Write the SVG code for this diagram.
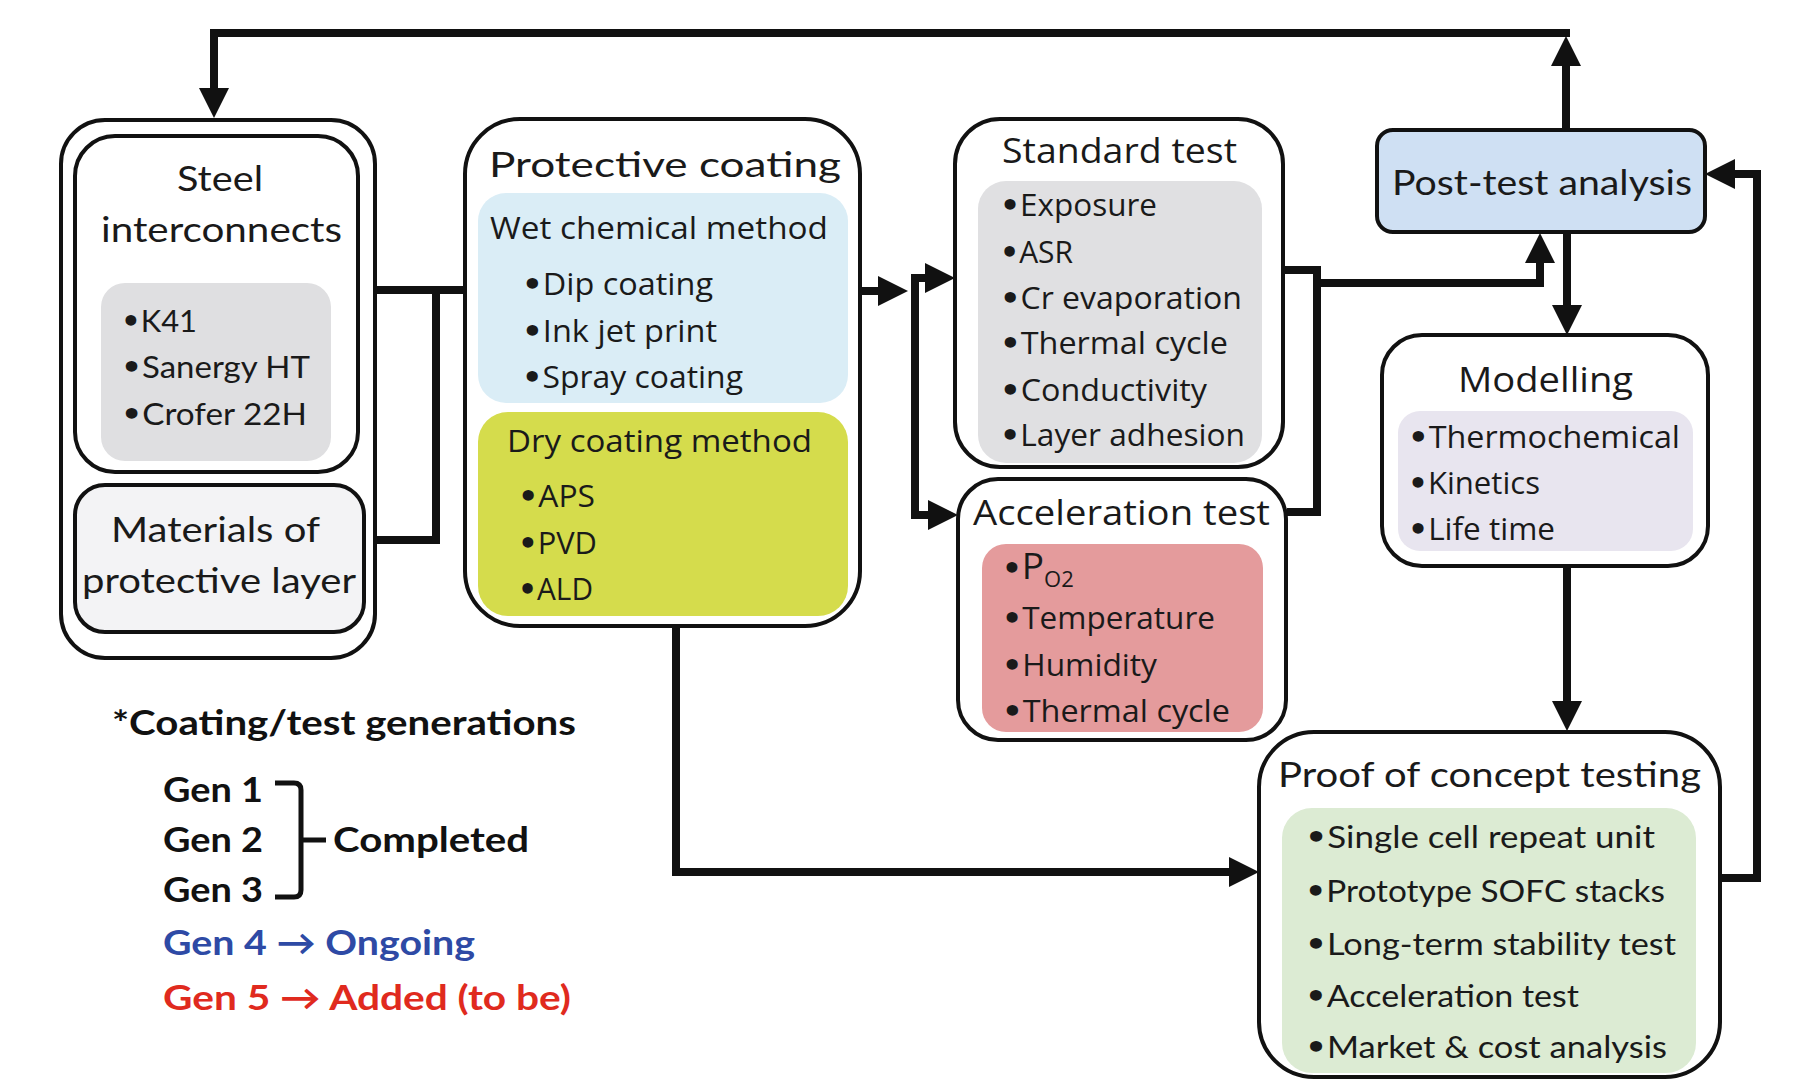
<svg xmlns="http://www.w3.org/2000/svg" width="1800" height="1079" viewBox="0 0 1800 1079">
<defs>
<style>
.box{fill:#fff;stroke:#111;stroke-width:4}
.inner{stroke:none}
.t{font-family:Lato,"Liberation Sans",sans-serif;font-size:35px;fill:#1a1a1a}
.i{font-family:Lato,"Liberation Sans",sans-serif;font-size:31px;fill:#1a1a1a}
.w{font-family:"Open Sans","DejaVu Sans",sans-serif;font-size:31px;fill:#1a1a1a}
.wt{font-family:"Open Sans","DejaVu Sans",sans-serif;font-size:34px;fill:#1a1a1a}
.b{font-family:"DejaVu Sans",sans-serif;font-weight:bold;font-size:31px}
.lg{font-family:Lato,"Liberation Sans",sans-serif;font-size:35px;font-weight:bold;fill:#111}
.con{fill:none;stroke:#111;stroke-width:8;stroke-linejoin:miter}
</style>
<marker id="ah" markerUnits="userSpaceOnUse" markerWidth="30" markerHeight="30" refX="20" refY="15" orient="auto-start-reverse">
<path d="M0,0 L30,15 L0,30 Z" fill="#111"/>
</marker>
</defs>
<rect width="1800" height="1079" fill="#fff"/>

<g id="connectors">
<path class="con" d="M1566,130 V46" marker-end="url(#ah)"/>
<path class="con" d="M1570,33 H214 V108" marker-end="url(#ah)"/>
<path class="con" d="M375,290 H465"/>
<path class="con" d="M375,540 H436 V290"/>
<path class="con" d="M860,291 H898" marker-end="url(#ah)"/>
<path class="con" d="M945,278 H915 V515 H948" marker-start="url(#ah)" marker-end="url(#ah)"/>
<path class="con" d="M1283,270 H1317 V512 H1287"/>
<path class="con" d="M1317,283 H1540 V243" marker-end="url(#ah)"/>
<path class="con" d="M1567,232 V325" marker-end="url(#ah)"/>
<path class="con" d="M1567,566 V721" marker-end="url(#ah)"/>
<path class="con" d="M1720,878 H1757 V174 H1715" marker-end="url(#ah)"/>
<path class="con" d="M676,626 V872 H1249" marker-end="url(#ah)"/>
</g>

<g id="steel-group">
<rect class="box" x="61" y="120" width="314" height="538" rx="44"/>
</g>
<g id="steel-interconnects">
<rect class="box" x="75" y="136" width="283" height="336" rx="40"/>
<rect class="inner" x="101" y="283" width="230" height="178" rx="24" fill="#dfdfe1"/>
<text class="t" x="177" y="191" textLength="86" lengthAdjust="spacingAndGlyphs">Steel</text>
<text class="t" x="101" y="242" textLength="241" lengthAdjust="spacingAndGlyphs">interconnects</text>
<text class="i" x="121" y="332" textLength="76" lengthAdjust="spacingAndGlyphs"><tspan class="b">•</tspan>K41</text>
<text class="i" x="121" y="378" textLength="189" lengthAdjust="spacingAndGlyphs"><tspan class="b">•</tspan>Sanergy HT</text>
<text class="i" x="121" y="425" textLength="186" lengthAdjust="spacingAndGlyphs"><tspan class="b">•</tspan>Crofer 22H</text>
</g>
<g id="materials">
<rect class="box" x="75" y="485" width="289" height="147" rx="30" style="fill:#f3f3f5"/>
<text class="t" x="111" y="542" textLength="209" lengthAdjust="spacingAndGlyphs">Materials of</text>
<text class="t" x="82" y="593" textLength="274" lengthAdjust="spacingAndGlyphs">protective layer</text>
</g>

<g id="protective-coating">
<rect class="box" x="465" y="119" width="395" height="507" rx="55"/>
<rect class="inner" x="478" y="193" width="370" height="210" rx="28" fill="#daedf6"/>
<rect class="inner" x="478" y="412" width="370" height="204" rx="30" fill="#d5dc4c"/>
<text class="t" x="489" y="177" textLength="352" lengthAdjust="spacingAndGlyphs">Protective coating</text>
<text class="w" x="490" y="239" textLength="338" lengthAdjust="spacingAndGlyphs">Wet chemical method</text>
<text class="w" x="522" y="295" textLength="191" lengthAdjust="spacingAndGlyphs"><tspan class="b">•</tspan>Dip coating</text>
<text class="w" x="522" y="342" textLength="195" lengthAdjust="spacingAndGlyphs"><tspan class="b">•</tspan>Ink jet print</text>
<text class="w" x="522" y="388" textLength="221" lengthAdjust="spacingAndGlyphs"><tspan class="b">•</tspan>Spray coating</text>
<text class="w" x="507" y="452" textLength="305" lengthAdjust="spacingAndGlyphs">Dry coating method</text>
<text class="w" x="518" y="507" textLength="77" lengthAdjust="spacingAndGlyphs"><tspan class="b">•</tspan>APS</text>
<text class="w" x="518" y="554" textLength="79" lengthAdjust="spacingAndGlyphs"><tspan class="b">•</tspan>PVD</text>
<text class="w" x="518" y="600" textLength="75" lengthAdjust="spacingAndGlyphs"><tspan class="b">•</tspan>ALD</text>
</g>

<g id="standard-test">
<rect class="box" x="955" y="119" width="328" height="348" rx="45"/>
<rect class="inner" x="978" y="181" width="284" height="282" rx="28" fill="#e0e0e2"/>
<text class="wt" x="1002" y="163" textLength="235" lengthAdjust="spacingAndGlyphs">Standard test</text>
<text class="w" x="1000" y="216" textLength="157" lengthAdjust="spacingAndGlyphs"><tspan class="b">•</tspan>Exposure</text>
<text class="w" x="1000" y="263" textLength="73" lengthAdjust="spacingAndGlyphs"><tspan class="b">•</tspan>ASR</text>
<text class="w" x="1000" y="309" textLength="242" lengthAdjust="spacingAndGlyphs"><tspan class="b">•</tspan>Cr evaporation</text>
<text class="w" x="1000" y="354" textLength="228" lengthAdjust="spacingAndGlyphs"><tspan class="b">•</tspan>Thermal cycle</text>
<text class="w" x="1000" y="401" textLength="207" lengthAdjust="spacingAndGlyphs"><tspan class="b">•</tspan>Conductivity</text>
<text class="w" x="1000" y="446" textLength="245" lengthAdjust="spacingAndGlyphs"><tspan class="b">•</tspan>Layer adhesion</text>
</g>

<g id="acceleration-test">
<rect class="box" x="958" y="479" width="328" height="261" rx="40"/>
<rect class="inner" x="982" y="544" width="281" height="188" rx="24" fill="#e49b9c"/>
<text class="wt" x="973" y="525" textLength="297" lengthAdjust="spacingAndGlyphs">Acceleration test</text>
<text class="w" x="1002" y="579"><tspan class="b">•</tspan><tspan font-size="37">P</tspan><tspan font-size="22" dy="8">O2</tspan></text>
<text class="w" x="1002" y="629" textLength="213" lengthAdjust="spacingAndGlyphs"><tspan class="b">•</tspan>Temperature</text>
<text class="w" x="1002" y="676" textLength="155" lengthAdjust="spacingAndGlyphs"><tspan class="b">•</tspan>Humidity</text>
<text class="w" x="1002" y="722" textLength="228" lengthAdjust="spacingAndGlyphs"><tspan class="b">•</tspan>Thermal cycle</text>
</g>

<g id="post-test-analysis">
<rect class="box" x="1377" y="130" width="328" height="102" rx="16" style="fill:#cfe0f3"/>
<text class="t" x="1392" y="195" textLength="300" lengthAdjust="spacingAndGlyphs">Post-test analysis</text>
</g>

<g id="modelling">
<rect class="box" x="1382" y="335" width="326" height="231" rx="40"/>
<rect class="inner" x="1398" y="411" width="295" height="140" rx="22" fill="#e8e5ef"/>
<text class="wt" x="1458" y="392" textLength="175" lengthAdjust="spacingAndGlyphs">Modelling</text>
<text class="w" x="1408" y="448" textLength="272" lengthAdjust="spacingAndGlyphs"><tspan class="b">•</tspan>Thermochemical</text>
<text class="w" x="1408" y="494" textLength="132" lengthAdjust="spacingAndGlyphs"><tspan class="b">•</tspan>Kinetics</text>
<text class="w" x="1408" y="540" textLength="147" lengthAdjust="spacingAndGlyphs"><tspan class="b">•</tspan>Life time</text>
</g>

<g id="proof-of-concept">
<rect class="box" x="1259" y="732" width="461" height="345" rx="55"/>
<rect class="inner" x="1282" y="808" width="414" height="265" rx="30" fill="#dcebd3"/>
<text class="t" x="1278" y="787" textLength="423" lengthAdjust="spacingAndGlyphs">Proof of concept testing</text>
<text class="i" x="1305" y="848" textLength="350" lengthAdjust="spacingAndGlyphs"><tspan class="b">•</tspan>Single cell repeat unit</text>
<text class="i" x="1305" y="902" textLength="360" lengthAdjust="spacingAndGlyphs"><tspan class="b">•</tspan>Prototype SOFC stacks</text>
<text class="i" x="1305" y="955" textLength="371" lengthAdjust="spacingAndGlyphs"><tspan class="b">•</tspan>Long-term stability test</text>
<text class="i" x="1305" y="1007" textLength="274" lengthAdjust="spacingAndGlyphs"><tspan class="b">•</tspan>Acceleration test</text>
<text class="i" x="1305" y="1058" textLength="362" lengthAdjust="spacingAndGlyphs"><tspan class="b">•</tspan>Market &amp; cost analysis</text>
</g>

<g id="legend">
<text class="lg" x="112" y="735" textLength="464" lengthAdjust="spacingAndGlyphs">*Coating/test generations</text>
<text class="lg" x="163" y="802" textLength="100" lengthAdjust="spacingAndGlyphs">Gen 1</text>
<text class="lg" x="163" y="852" textLength="100" lengthAdjust="spacingAndGlyphs">Gen 2</text>
<text class="lg" x="163" y="902" textLength="100" lengthAdjust="spacingAndGlyphs">Gen 3</text>
<path d="M275,783 H294 Q301,783 301,790 V890 Q301,897 294,897 H275 M301,840 H326" fill="none" stroke="#111" stroke-width="5"/>
<text class="lg" x="333" y="852" textLength="196" lengthAdjust="spacingAndGlyphs">Completed</text>
<text class="lg" x="163" y="955" textLength="312" lengthAdjust="spacingAndGlyphs" style="fill:#2e4aa5">Gen 4 → Ongoing</text>
<text class="lg" x="163" y="1010" textLength="408" lengthAdjust="spacingAndGlyphs" style="fill:#e02a1e">Gen 5 → Added (to be)</text>
</g>
</svg>
